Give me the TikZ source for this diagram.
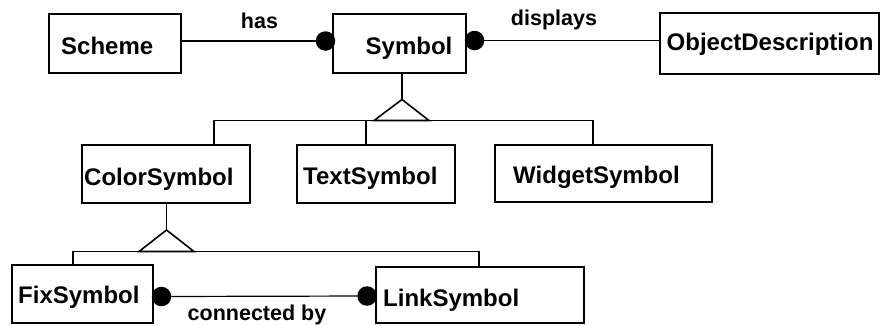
\documentclass[tikz,border=0pt]{standalone}
\usepackage{fontspec}
\setmainfont{Liberation Sans}
\begin{document}
\begin{tikzpicture}[x=1pt,y=-1pt,
  classbox/.style={draw, line width=1.5pt, inner sep=0pt, fill=white},
  classname/.style={anchor=base west, inner sep=0pt, font=\fontsize{24}{28}\selectfont\bfseries},
  rolename/.style={anchor=base, inner sep=0pt, font=\fontsize{21.5}{25}\selectfont\bfseries},
  assoc/.style={line width=1.2pt},
  tree/.style={line width=1.3pt},
  genarrow/.style={line width=1.6pt, fill=white, line join=miter},
  knob/.style={circle, fill=black, inner sep=0pt, minimum size=19.5pt}]
\useasboundingbox (0,0) rectangle (880,325);

% classes
\node[classbox, minimum width=132pt, minimum height=59pt] (scheme) at (115,43.5) {};
\node[classbox, minimum width=133pt, minimum height=59pt] (symbol) at (399.5,43.5) {};
\node[classbox, minimum width=219pt, minimum height=61pt] (objdesc) at (769.5,43.5) {};
\node[classbox, minimum width=168pt, minimum height=58pt] (colorsym) at (166,174) {};
\node[classbox, minimum width=158pt, minimum height=58pt] (textsym) at (376,174) {};
\node[classbox, minimum width=217pt, minimum height=57pt] (widgetsym) at (603.5,173.5) {};
\node[classbox, minimum width=141pt, minimum height=58pt] (fixsym) at (82.5,294) {};
\node[classbox, minimum width=208pt, minimum height=56pt] (linksym) at (480,295) {};

\node[classname] (t1) at (61,54) {Scheme};
\node[classname] (t2) at (365.5,54) {Symbol};
\node[classname] (t3) at (666.5,50) {ObjectDescription};
\node[classname] (t4) at (84,185) {ColorSymbol};
\node[classname] (t5) at (303,184.5) {TextSymbol};
\node[classname] (t6) at (513,183) {WidgetSymbol};
\node[classname] (t7) at (18,303) {FixSymbol};
\node[classname] (t8) at (383,306) {LinkSymbol};

% associations
\node[knob] (k1) at (325.5,41) {};
\node[knob] (k2) at (474.5,40.5) {};
\node[knob] (k3) at (161.5,296.5) {};
\node[knob] (k4) at (367,296) {};
\draw[assoc] (scheme.east |- k1) -- (k1);
\draw[assoc] (k2) -- (objdesc.west |- k2);
\draw[assoc] (k3) -- (k4);
\node[rolename] (l1) at (259.5,28) {has};
\node[rolename] (l2) at (554,25) {displays};
\node[rolename] (l3) at (257,320) {connected by};

% generalization of Symbol
\coordinate (apex1) at (402,99.5);
\coordinate (bar1l) at (214,120.5);
\coordinate (bar1m) at (366,120.5);
\coordinate (bar1r) at (593,120.5);
\draw[tree] (apex1 |- symbol.south) -- (apex1);
\draw[tree] (bar1l |- colorsym.north) -- (bar1l) -- (bar1r) -- (bar1r |- widgetsym.north);
\draw[tree] (bar1m) -- (bar1m |- textsym.north);
\draw[genarrow] (apex1) -- (374,120.5) -- (429,120.5) -- cycle;

% generalization of ColorSymbol
\coordinate (apex2) at (166.5,230);
\coordinate (bar2l) at (73,251.5);
\coordinate (bar2r) at (479,251.5);
\draw[tree] (apex2 |- colorsym.south) -- (apex2);
\draw[tree] (bar2l |- fixsym.north) -- (bar2l) -- (bar2r) -- (bar2r |- linksym.north);
\draw[genarrow] (apex2) -- (139,251.5) -- (194,251.5) -- cycle;
\end{tikzpicture}
\end{document}
